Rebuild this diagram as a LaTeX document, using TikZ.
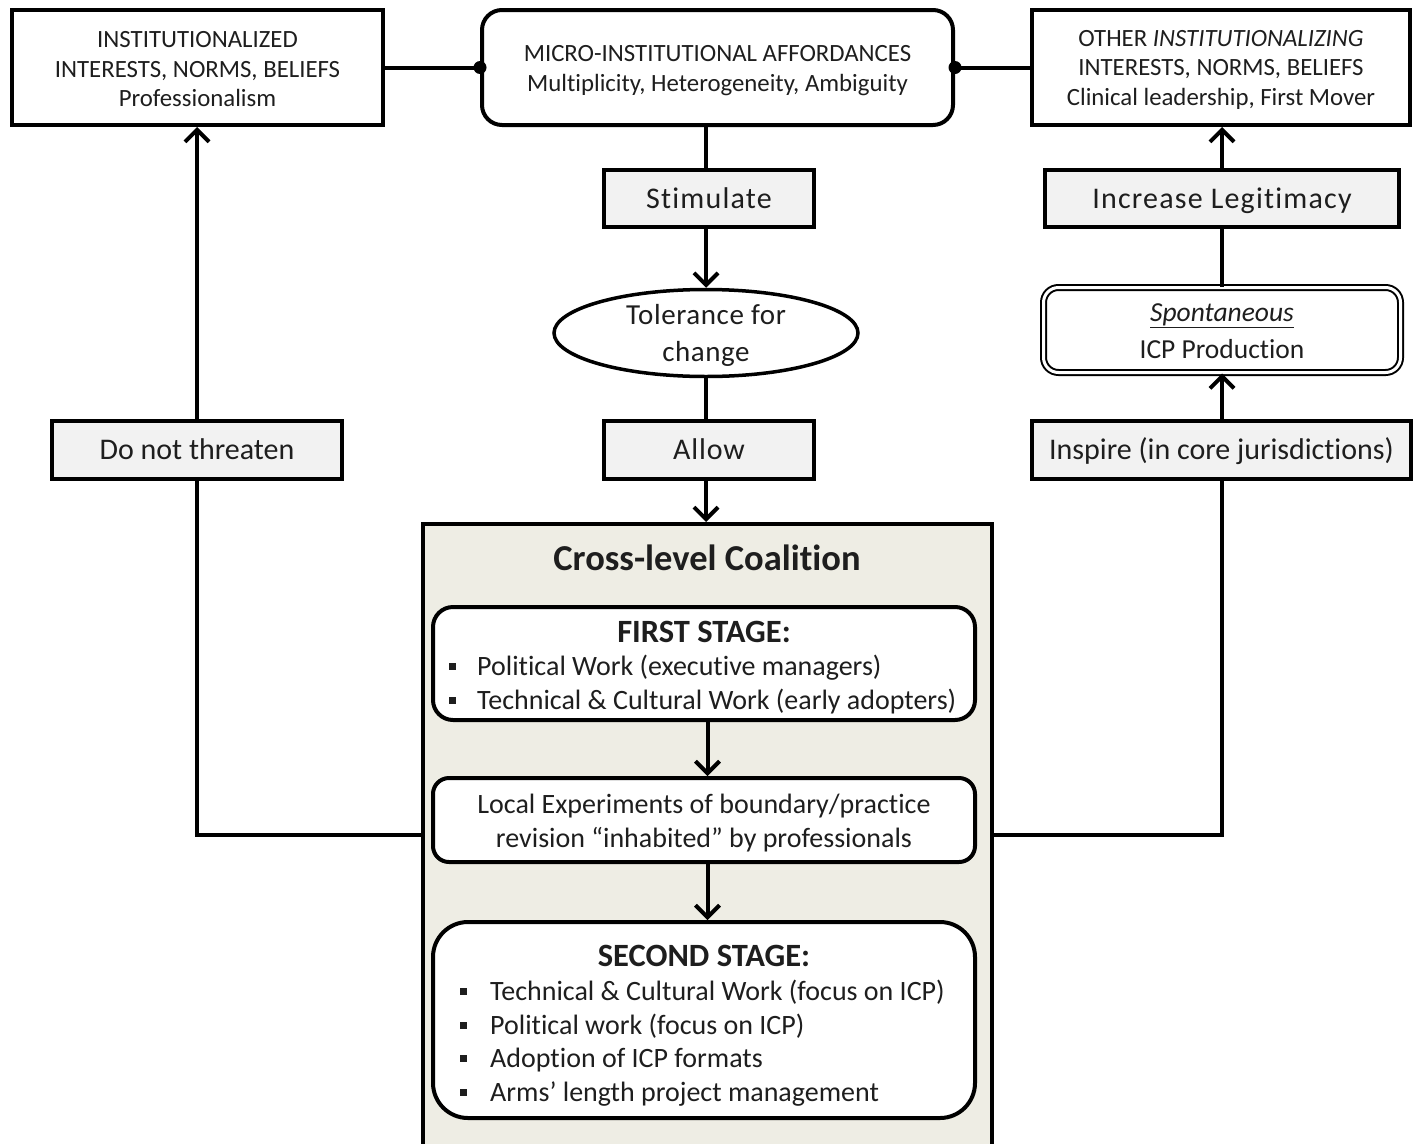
\documentclass[tikz,border=0pt]{standalone}
\usepackage{fontspec}
\setmainfont{Carlito}[Ligatures={NoCommon}]
\usetikzlibrary{arrows.meta,shapes.geometric}
\definecolor{boxgray}{HTML}{F2F2F2}
\definecolor{beige}{HTML}{EEEDE4}
\definecolor{txt}{HTML}{1E1E1E}
\newcommand{\fsz}[2]{\fontsize{#1}{#2}\selectfont}
\newcommand{\bsq}{\rule[0.17em]{7pt}{7pt}}
\newcommand{\lsp}[1]{\addfontfeature{LetterSpace=#1}}
\begin{document}
\begin{tikzpicture}[x=1pt,y=-1pt,
  thickbox/.style={draw=black, line width=4pt, inner sep=0pt, text=txt},
  topbox/.style={thickbox, fill=white},
  verbbox/.style={thickbox, fill=boxgray, font=\fsz{30}{32}, text height=19.5pt, text depth=0pt},
  stagebox/.style={thickbox, fill=white, rounded corners=#1, minimum width=542pt},
  conn/.style={draw=black, line width=4pt},
  arr/.style={conn, -{Straight Barb[length=12pt,width=24pt]}},
  ln/.style={anchor=base west, inner sep=0pt, text=txt},
  plain/.style={inner sep=0pt, text=txt, align=center},
  toptext/.style={plain, font=\fsz{24.8}{29.5}},
  ttl/.style={inner sep=0pt, text=txt, font=\bfseries\fsz{32.5}{34}}
]
\useasboundingbox (0,0) rectangle (1415,1143);
\fill[white] (0,0) rectangle (1415,1143);

% top row
\node[topbox, minimum width=371pt, minimum height=115pt] (A) at (197.5,67.5) {};
\node[toptext] (At) at (197.5,69.5) {INSTITUTIONALIZED\\INTERESTS, NORMS, BELIEFS\\Professionalism};
\node[topbox, rounded corners=20pt, minimum width=471pt, minimum height=115pt] (B) at (717.5,67.5) {};
\node[toptext] (Bt) at (717.5,70.5)
  {MICRO-INSTITUTIONAL AFFORDANCES\\Multiplicity, Heterogeneity, Ambiguity};
\node[topbox, minimum width=378pt, minimum height=115pt] (C) at (1221,67.5) {};
\node[toptext] (Ct) at (1221,69.5)
  {OTHER \textit{INSTITUTIONALIZING}\\INTERESTS, NORMS, BELIEFS\\Clinical leadership, First Mover};

% centre column
\node[verbbox, minimum width=210pt, minimum height=57pt] (stim) at (709,198.5) {\lsp{4}Stimulate};
\node[thickbox, line width=3.5pt, fill=white, ellipse, minimum width=304pt, minimum height=87pt] (tol) at (706,333) {};
\node[plain, font=\fsz{29}{37}] (tolt) at (706,335) {\lsp{2}Tolerance for\\\lsp{2}change};
\node[verbbox, minimum width=210pt, minimum height=58pt] (allow) at (709,450) {\lsp{3}Allow};

% coalition
\node[thickbox, fill=beige, minimum width=569pt, minimum height=640pt] (coal) at (707.5,844) {};
\node[inner sep=0pt, text=txt, font=\bfseries\fsz{36.5}{38}] (ctitle) at (707,558) {Cross-level Coalition};

\node[stagebox=20pt, minimum height=113pt] (S1) at (704,663.5) {};
\node[ttl] (S1t) at (704,632) {FIRST STAGE:};
\node[ln, font=\fsz{28}{30}] (S1a) at (449,675) {\bsq\hspace{21pt}Political Work (executive managers)};
\node[ln, font=\fsz{28}{30}] (S1b) at (449,709) {\bsq\hspace{21pt}Technical \& Cultural Work (early adopters)};

\node[stagebox=16pt, minimum height=84pt] (L) at (704,820) {};
\node[plain, font=\fsz{28}{34}] (Lt) at (704,823)
  {Local Experiments of boundary/practice\\revision “inhabited” by professionals};

\node[stagebox=35pt, minimum height=196pt] (S2) at (704,1020) {};
\node[ttl] (S2t) at (704,956) {SECOND STAGE:};
\node[ln, font=\fsz{28}{30}] (S2a) at (460,1000) {\bsq\hspace{23pt}Technical \& Cultural Work (focus on ICP)};
\node[ln, font=\fsz{28}{30}] (S2b) at (460,1034) {\bsq\hspace{23pt}Political work (focus on ICP)};
\node[ln, font=\fsz{28}{30}] (S2c) at (460,1067) {\bsq\hspace{23pt}Adoption of ICP formats};
\node[ln, font=\fsz{28}{30}] (S2d) at (460,1101) {\bsq\hspace{23pt}Arms’ length project management};

% left column
\node[verbbox, minimum width=290pt, minimum height=58pt] (dnt) at (197,450) {Do not threaten};

% right column
\node[verbbox, minimum width=354pt, minimum height=57pt] (inc) at (1222,198.5) {\lsp{4}Increase Legitimacy};
\node[draw=black, line width=2pt, double=white, double distance=3pt, fill=white, rounded corners=15pt,
  inner sep=0pt, minimum width=357pt, minimum height=85pt] (spont) at (1222,330) {};
\node[plain, font=\fsz{27.5}{37}] (spontt) at (1222,331) {\underline{\textit{Spontaneous}}\\ICP Production};
\node[verbbox, minimum width=379pt, minimum height=58pt] (insp) at (1221.5,450) {Inspire (in core jurisdictions)};

\coordinate (lj) at (421,835);
\coordinate (rj) at (994,835);

% connectors
\draw[conn] (A.east) -- (B.west);
\fill[black] (B.west) circle[radius=6.5pt];
\draw[conn] (C.west) -- (B.east);
\fill[black] (B.east) circle[radius=6.5pt];

\draw[conn] (B.south -| tol.north) -- (tol.north |- stim.north);
\draw[arr] (tol.north |- stim.south) -- (tol.north);
\draw[conn] (tol.south) -- (tol.south |- allow.north);
\draw[arr] (tol.south |- allow.south) -- (tol.south |- coal.north);
\draw[arr] (S1.south -| coal.north) -- (L.north -| coal.north);
\draw[arr] (L.south -| coal.north) -- (S2.north -| coal.north);

\draw[conn] (coal.west |- lj) -| (dnt.south);
\draw[arr] (dnt.north) -- (A.south -| dnt.north);

\draw[conn] (coal.east |- rj) -| (insp.south -| spont.south);
\draw[arr] (insp.north -| spont.south) -- (spont.south);
\draw[conn] (spont.north) -- (inc.south -| spont.north);
\draw[arr] (inc.north -| spont.north) -- (C.south -| spont.north);
\end{tikzpicture}
\end{document}
